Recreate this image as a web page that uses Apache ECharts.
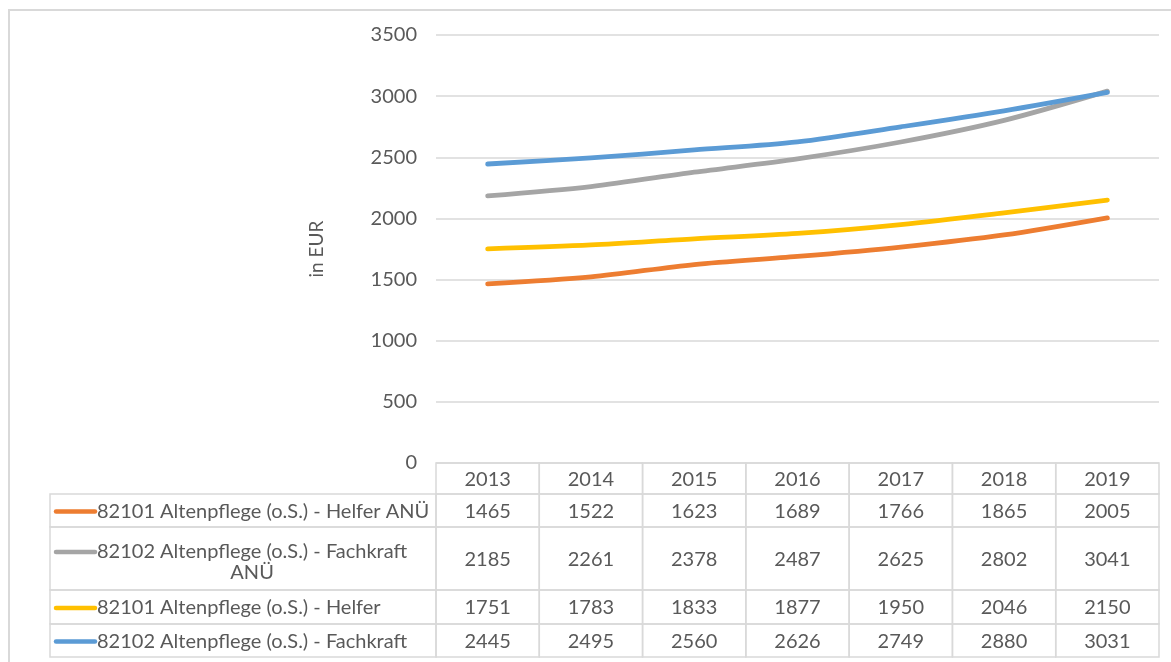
<!DOCTYPE html>
<html>
<head>
<meta charset="utf-8">
<script src="https://cdn.jsdelivr.net/npm/echarts@6/dist/echarts.min.js"></script>
<style>
  html, body { margin: 0; padding: 0; background: #fff; }
  #chart { width: 1171px; height: 662px; }
</style>
</head>
<body>
<div id="chart"></div>
<script>
// Monatliche Entgelte in der Altenpflege, 2013–2019
const years = ['2013', '2014', '2015', '2016', '2017', '2018', '2019'];
const helferANU = [1465, 1522, 1623, 1689, 1766, 1865, 2005];
const fachkraftANU = [2185, 2261, 2378, 2487, 2625, 2802, 3041];
const helfer = [1751, 1783, 1833, 1877, 1950, 2046, 2150];
const fachkraft = [2445, 2495, 2560, 2626, 2749, 2880, 3031];

const seriesNames = [
  '82101 Altenpflege (o.S.) - Helfer ANÜ',
  '82102 Altenpflege (o.S.) - Fachkraft ANÜ',
  '82101 Altenpflege (o.S.) - Helfer',
  '82102 Altenpflege (o.S.) - Fachkraft'
];
// legend cell text, split where the data table wraps it
const legendLines = [
  ['82101 Altenpflege (o.S.) - Helfer ANÜ'],
  ['82102 Altenpflege (o.S.) - Fachkraft', 'ANÜ'],
  ['82101 Altenpflege (o.S.) - Helfer'],
  ['82102 Altenpflege (o.S.) - Fachkraft']
];
const seriesValues = [helferANU, fachkraftANU, helfer, fachkraft];
const colors = ['#ED7D31', '#A5A5A5', '#FFC000', '#5B9BD5'];

const FONT = 'Lato';
const FONT_SIZE = 20;
const TEXT = '#595959';
const BORDER = '#d9d9d9';
// data table row heights: header, then one row per series
const rowHeights = [31, 33, 63, 34, 33];
const legendLeft = 50;

const measureCtx = document.createElement('canvas').getContext('2d');
measureCtx.font = FONT_SIZE + 'px ' + FONT;
function textWidth(s) { return measureCtx.measureText(s).width; }

const chart = echarts.init(document.getElementById('chart'), null, { renderer: 'canvas' });

function tableColumn(params, api) {
  const i = api.value(0);
  const base = api.coord([i, 0]);
  const w = api.size([1, 0])[0];
  const x0 = base[0] - w / 2;
  const font = FONT_SIZE + 'px ' + FONT;
  const children = [];
  let y = base[1];
  rowHeights.forEach(function (h, r) {
    children.push({
      type: 'rect',
      shape: { x: x0, y: y, width: w, height: h },
      style: { fill: 'none', stroke: BORDER, lineWidth: 1.5 }
    });
    const txt = r === 0 ? years[i] : String(seriesValues[r - 1][i]);
    children.push({
      type: 'text',
      style: {
        x: base[0], y: y + h / 2 + 1, text: txt,
        align: 'center', verticalAlign: 'middle',
        fill: TEXT, font: font
      }
    });
    if (i === 0 && r > 0) {
      // legend key cell left of the first column
      children.push({
        type: 'rect',
        shape: { x: legendLeft, y: y, width: x0 - legendLeft, height: h },
        style: { fill: 'none', stroke: BORDER, lineWidth: 1.5 }
      });
      const lines = legendLines[r - 1];
      const lineGap = 21;
      const firstY = y + h / 2 - (lines.length - 1) * lineGap / 2 + (lines.length > 1 ? 4 : 1);
      children.push({
        type: 'line',
        shape: { x1: legendLeft + 6, y1: firstY, x2: legendLeft + 45, y2: firstY },
        style: { stroke: colors[r - 1], lineWidth: 4.5, lineCap: 'round' }
      });
      const textX = legendLeft + 47;
      const blockW = textWidth(lines[0]);
      lines.forEach(function (ln, k) {
        children.push({
          type: 'text',
          style: {
            x: k === 0 ? textX : textX + blockW / 2,
            y: firstY + k * lineGap,
            text: ln,
            align: k === 0 ? 'left' : 'center',
            verticalAlign: 'middle',
            fill: TEXT, font: font
          }
        });
      });
    }
    y += h;
  });
  return { type: 'group', children: children };
}

const lineSeries = seriesNames.map(function (name, k) {
  return {
    name: name,
    type: 'line',
    data: seriesValues[k],
    symbol: 'none',
    smooth: 0.3,
    lineStyle: { color: colors[k], width: 4.8, cap: 'round', join: 'round' },
    itemStyle: { color: colors[k] },
    z: 3 + k
  };
});

chart.setOption({
  animation: false,
  backgroundColor: '#fff',
  textStyle: { fontFamily: FONT },
  graphic: [{
    type: 'rect',
    shape: { x: 9, y: 10, width: 1300, height: 800 },
    style: { fill: 'none', stroke: BORDER, lineWidth: 2 },
    silent: true, z: 0
  }],
  grid: { left: 436, right: 12, top: 35, bottom: 199 },
  xAxis: {
    type: 'category',
    data: years,
    boundaryGap: true,
    axisLine: { show: false },
    axisTick: { show: false },
    axisLabel: { show: false },
    splitLine: { show: false }
  },
  yAxis: {
    type: 'value',
    min: 0, max: 3500, interval: 500,
    name: 'in EUR',
    nameLocation: 'middle',
    nameRotate: 90,
    nameGap: 110,
    nameTextStyle: { color: TEXT, fontSize: 19, fontFamily: FONT },
    axisLine: { show: false },
    axisTick: { show: false },
    axisLabel: {
      color: TEXT, fontSize: FONT_SIZE, fontFamily: FONT, margin: 19,
      formatter: function (v) { return String(v); }
    },
    splitLine: { lineStyle: { color: BORDER, width: 1.5 } }
  },
  series: lineSeries.concat([{
    type: 'custom',
    name: 'table',
    data: years.map(function (y, i) { return [i, 0]; }),
    encode: { x: 0, y: 1 },
    renderItem: tableColumn,
    clip: false,
    silent: true,
    z: 2
  }])
});
</script>
</body>
</html>
